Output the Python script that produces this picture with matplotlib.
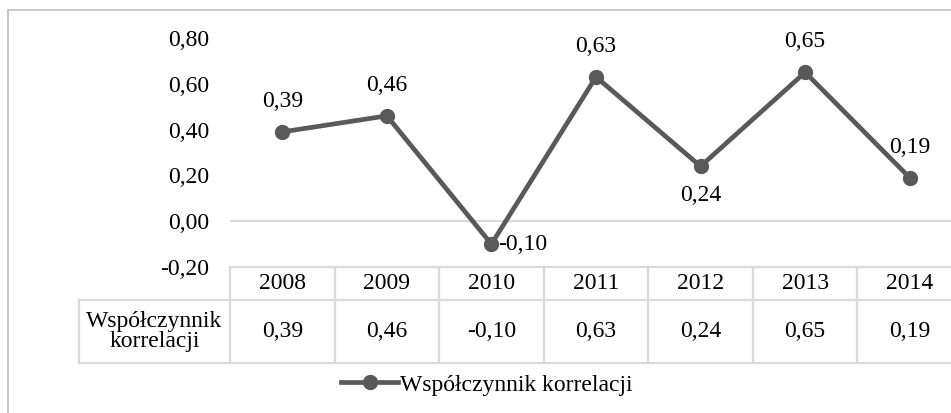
import matplotlib.pyplot as plt
from matplotlib.lines import Line2D

plt.rcParams['font.family'] = ['Liberation Serif', 'DejaVu Serif']

# dane
years = ['2008', '2009', '2010', '2011', '2012', '2013', '2014']
values = [0.39, 0.46, -0.10, 0.63, 0.24, 0.65, 0.19]
series_name = 'Współczynnik korrelacji'
row_label = 'Współczynnik\nkorrelacji'
yticks = [-0.2, 0.0, 0.2, 0.4, 0.6, 0.8]
# położenie etykiet danych: nad / pod / z prawej
label_pos = ['above', 'above', 'right', 'above', 'below', 'above', 'above']


def fmt(v):
    return f'{v:.2f}'.replace('.', ',')


W, H = 951, 413
FS = 17
fig = plt.figure(figsize=(W / 100, H / 100), dpi=100)

# obszar wykresu (w pikselach: x 230-962, y 38-267)
left, right, top, bottom = 230, 962, 38, 267
ax = fig.add_axes([left / W, 1 - bottom / H, (right - left) / W, (bottom - top) / H])
ax.set_xlim(-0.5, len(years) - 0.5)
ax.set_ylim(-0.2, 0.8)
for s in ax.spines.values():
    s.set_visible(False)
ax.set_xticks([])
ax.set_yticks(yticks)
ax.set_yticklabels([fmt(t) for t in yticks], fontsize=FS)
ax.tick_params(axis='y', length=0, pad=15)
ax.axhline(0, color='#d9d9d9', lw=1.5, zorder=1)

x = list(range(len(years)))
color = '#595959'
ax.plot(x, values, color=color, lw=3.4, marker='o', markersize=10,
        clip_on=False, zorder=3, label=series_name)

for xi, v, pos in zip(x, values, label_pos):
    if pos == 'above':
        ax.annotate(fmt(v), (xi, v), xytext=(0, 22), textcoords='offset points',
                    ha='center', va='center', fontsize=FS)
    elif pos == 'below':
        ax.annotate(fmt(v), (xi, v), xytext=(0, -21), textcoords='offset points',
                    ha='center', va='center', fontsize=FS)
    else:
        ax.annotate(fmt(v), (xi, v), xytext=(5, 0), textcoords='offset points',
                    ha='left', va='center', fontsize=FS)

# tabela danych pod osią
trans = ax.get_xaxis_transform()
ah = bottom - top
r1 = -(300 - bottom) / ah
r2 = -(363 - bottom) / ah
lab_x = -0.5 - (left - 79) / (right - left) * len(years)
grid = dict(color='#d9d9d9', lw=1.6, transform=trans, clip_on=False)
ax.add_line(Line2D([-0.5, len(years) - 0.5], [0, 0], **grid))
ax.add_line(Line2D([lab_x, len(years) - 0.5], [r1, r1], **grid))
ax.add_line(Line2D([lab_x, len(years) - 0.5], [r2, r2], **grid))
ax.add_line(Line2D([lab_x, lab_x], [r1, r2], **grid))
for i in range(len(years) + 1):
    ax.add_line(Line2D([i - 0.5, i - 0.5], [0, r2], **grid))
for xi, yr, v in zip(x, years, values):
    ax.text(xi, r1 / 2, yr, transform=trans, ha='center', va='center', fontsize=FS)
    ax.text(xi, (r1 + r2) / 2, fmt(v), transform=trans, ha='center', va='center', fontsize=FS)
ax.text((lab_x - 0.5) / 2, (r1 + r2) / 2, row_label, transform=trans, ha='center',
        va='center', fontsize=FS, linespacing=1.0)

# legenda
fig.legend(loc='center', bbox_to_anchor=(487 / W, 1 - 385 / H), frameon=False,
           fontsize=FS, handlelength=2.4, handletextpad=0.1)

# ramka wykresu
fig.add_artist(Line2D([8 / W, 8 / W], [0, 1 - 10 / H], color='#bfbfbf', lw=1.2))
fig.add_artist(Line2D([8 / W, 1], [1 - 10 / H, 1 - 10 / H], color='#bfbfbf', lw=1.2))

fig.savefig('out.png', dpi=100)
